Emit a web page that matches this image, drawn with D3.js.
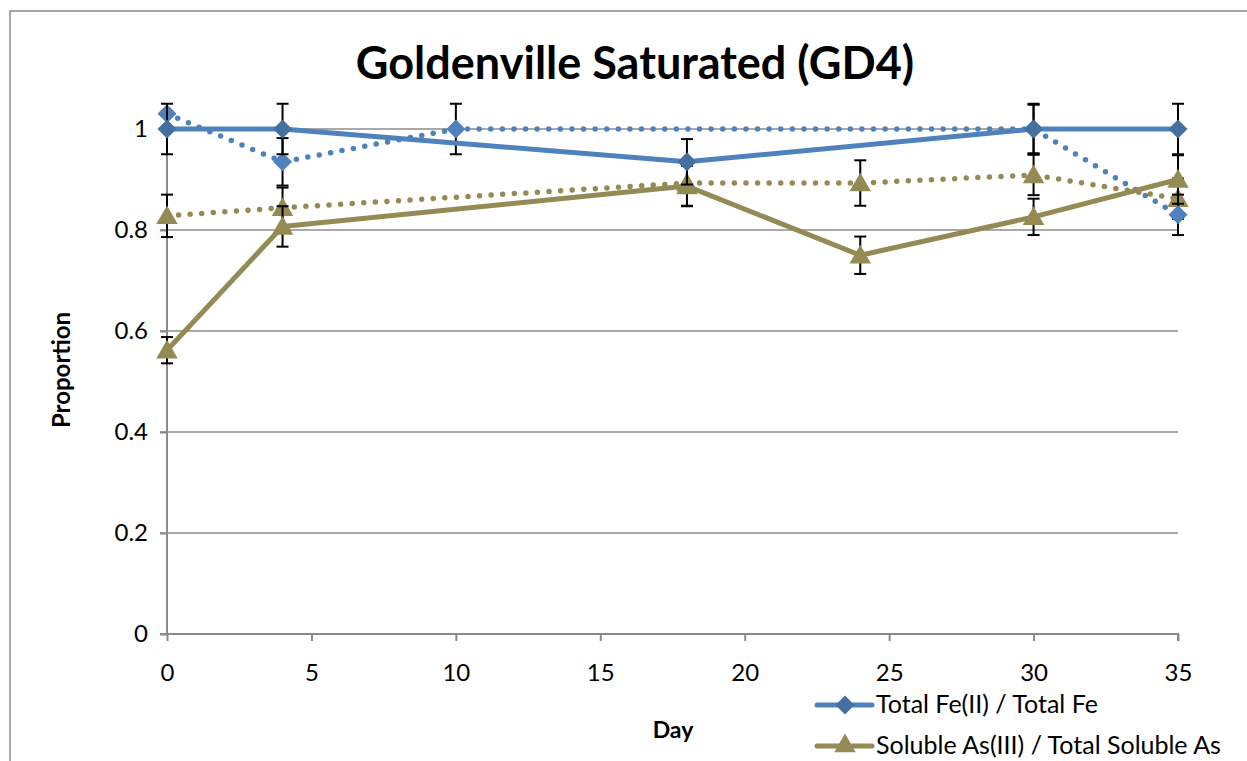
<!DOCTYPE html>
<html>
<head>
<meta charset="utf-8">
<script src="https://cdn.jsdelivr.net/npm/d3@7"></script>
<style>
  body { margin: 0; background: #fff; }
  svg { font-family: "Lato", "Open Sans", sans-serif; }
  .axis path, .axis line { stroke: #8a8a8a; stroke-width: 2; }
  .axis text { font-size: 24px; fill: #000; font-family: "Lato", sans-serif; }
</style>
</head>
<body>
<svg width="1247" height="761"></svg>
<script>
// day ticks + y ticks
var xTicks = [0, 5, 10, 15, 20, 25, 30, 35];
var yTicks = [0, 0.2, 0.4, 0.6, 0.8, 1];

// Total Fe(II) / Total Fe, solid
var feDays = [0, 4, 18, 30, 35];
var feVals = [1.0, 1.0, 0.935, 1.0, 1.0];
var feErr = [0.05, 0.05, 0.045, 0.05, 0.05];

// Total Fe(II) / Total Fe, dotted (second replicate)
var feDotDays = [0, 4, 10, 30, 35];
var feDotVals = [1.03, 0.935, 1.0, 1.0, 0.83];
var feDotErr = [0, 0.047, 0.05, 0.048, 0.04];

// Soluble As(III) / Total Soluble As, solid
var asDays = [0, 4, 18, 24, 30, 35];
var asVals = [0.562, 0.807, 0.887, 0.75, 0.826, 0.90];
var asErr = [0.026, 0.04, 0.04, 0.037, 0.036, 0.048];

// Soluble As(III) / Total Soluble As, dotted
var asDotDays = [0, 4, 18, 24, 30, 35];
var asDotVals = [0.828, 0.844, 0.893, 0.893, 0.909, 0.862];
var asDotErr = [0.042, 0.04, 0.045, 0.045, 0.04, 0.04];

var blue = "#4f81bd", olive = "#948a54";

var svg = d3.select("svg");

// frame (only left + top edges visible)
svg.append("path")
    .attr("d", "M10,761V11H1247")
    .attr("fill", "none")
    .attr("stroke", "#8a8a8a")
    .attr("stroke-width", 1.5);

var x = d3.scaleLinear().domain([0, 35]).range([167, 1178]);
var y = d3.scaleLinear().domain([0, 1]).range([634, 129]);

// gridlines
svg.append("g")
    .selectAll("line")
    .data(yTicks.filter(function(d) { return d > 0; }))
    .enter().append("line")
    .attr("x1", x(0) - 7).attr("x2", x(35))
    .attr("y1", function(d) { return y(d); })
    .attr("y2", function(d) { return y(d); })
    .attr("stroke", "#8c8c8c")
    .attr("stroke-width", 1.5);

var yAxis = svg.append("g")
    .attr("class", "axis")
    .attr("transform", "translate(" + x(0) + ",0)")
    .call(d3.axisLeft(y).tickValues(yTicks).tickSize(7).tickPadding(12)
        .tickFormat(function(d) { return d3.format("")(+d.toFixed(1)); }));

var xAxis = svg.append("g")
    .attr("class", "axis")
    .attr("transform", "translate(0," + y(0) + ")")
    .call(d3.axisBottom(x).tickValues(xTicks).tickSize(7).tickPadding(23));
xAxis.select(".domain").attr("d", "M" + (x(0) - 7) + ",0H" + x(35) + "V7");
yAxis.select(".domain").attr("d", "M0," + y(1) + "V" + y(0));

// title + axis labels
svg.append("text")
    .attr("x", 635).attr("y", 79)
    .attr("text-anchor", "middle")
    .attr("font-size", 45).attr("font-weight", "bold")
    .text("Goldenville Saturated (GD4)");

svg.append("text")
    .attr("transform", "translate(70,370) rotate(-90)")
    .attr("text-anchor", "middle")
    .attr("font-size", 24).attr("font-weight", "bold")
    .text("Proportion");

svg.append("text")
    .attr("x", 673).attr("y", 738)
    .attr("text-anchor", "middle")
    .attr("font-size", 23).attr("font-weight", "bold")
    .text("Day");

function pts(days, vals, errs) {
  return days.map(function(d, i) { return { day: d, v: vals[i], e: errs[i] }; });
}

var diamond = d3.symbol().type(d3.symbolDiamond2).size(230);
var triangle = d3.symbol().type(d3.symbolTriangle).size(200);

var line = d3.line()
    .x(function(d) { return x(d.day); })
    .y(function(d) { return y(d.v); });

function drawSeries(data, color, dotted, sym, markerFill) {
  var g = svg.append("g");
  g.append("path")
      .datum(data)
      .attr("d", line)
      .attr("fill", "none")
      .attr("stroke", color)
      .attr("stroke-width", dotted ? 5.5 : 5)
      .attr("stroke-linecap", dotted ? "round" : "butt")
      .attr("stroke-linejoin", "round")
      .attr("stroke-dasharray", dotted ? "0,11.6" : null);

  var eb = g.selectAll(".eb").data(data.filter(function(d) { return d.e > 0; }))
      .enter().append("g").attr("class", "eb");
  eb.append("line")
      .attr("x1", function(d) { return x(d.day); }).attr("x2", function(d) { return x(d.day); })
      .attr("y1", function(d) { return y(d.v + d.e); }).attr("y2", function(d) { return y(d.v - d.e); })
      .attr("stroke", "#000").attr("stroke-width", 2);
  [1, -1].forEach(function(s) {
    eb.append("line")
        .attr("x1", function(d) { return x(d.day) - 6; }).attr("x2", function(d) { return x(d.day) + 6; })
        .attr("y1", function(d) { return y(d.v + s * d.e); }).attr("y2", function(d) { return y(d.v + s * d.e); })
        .attr("stroke", "#000").attr("stroke-width", 2);
  });

  g.selectAll(".m").data(data)
      .enter().append("path")
      .attr("class", "m")
      .attr("transform", function(d) {
        return "translate(" + x(d.day) + "," + (y(d.v) + (sym === triangle ? 2 : 0)) + ")";
      })
      .attr("d", sym)
      .attr("fill", markerFill);
}

drawSeries(pts(asDotDays, asDotVals, asDotErr), olive, true, triangle, olive);
drawSeries(pts(feDotDays, feDotVals, feDotErr), blue, true, diamond, blue);
drawSeries(pts(asDays, asVals, asErr), olive, false, triangle, olive);
drawSeries(pts(feDays, feVals, feErr), blue, false, diamond, "#44709f");

// legend
var legend = [
  { name: "Total Fe(II) / Total Fe", color: blue, sym: diamond, fill: "#44709f", y: 705 },
  { name: "Soluble As(III) / Total Soluble As", color: olive, sym: triangle, fill: olive, y: 746 }
];
var lg = svg.append("g").selectAll("g").data(legend).enter().append("g");
lg.append("line")
    .attr("x1", 817).attr("x2", 872)
    .attr("y1", function(d) { return d.y; }).attr("y2", function(d) { return d.y; })
    .attr("stroke", function(d) { return d.color; })
    .attr("stroke-width", 5).attr("stroke-linecap", "round");
lg.append("path")
    .attr("transform", function(d) { return "translate(845," + d.y + ")"; })
    .attr("d", function(d) { return d.sym(); })
    .attr("fill", function(d) { return d.fill; });
lg.append("text")
    .attr("x", 876).attr("y", function(d) { return d.y + 8; })
    .attr("font-size", 25)
    .text(function(d) { return d.name; });
</script>
</body>
</html>
